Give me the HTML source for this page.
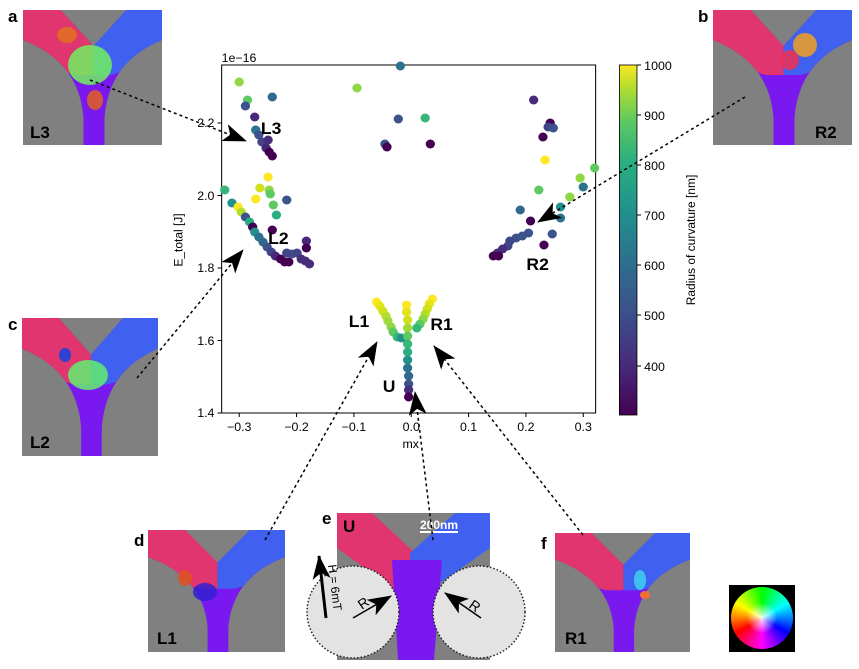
<!DOCTYPE html>
<html><head><meta charset="utf-8"><style>
body{margin:0;background:#fff;width:859px;height:669px;overflow:hidden;position:relative;font-family:"Liberation Sans","DejaVu Sans",sans-serif}
svg{position:absolute;left:0;top:0}
.wheel{position:absolute;left:729px;top:585px;width:66px;height:67px;background:#000}
.wheel div{position:absolute;left:2px;top:2px;width:62px;height:62px;border-radius:50%;background:radial-gradient(circle,rgba(255,255,255,0.9) 0%,rgba(255,255,255,0) 35%,rgba(0,0,0,0) 70%,rgba(0,0,0,0.5) 100%),conic-gradient(from 0deg,#0f0,#0ff,#00f,#f0f,#f00,#ff0,#0f0)}
</style></head><body>
<svg width="859" height="669" viewBox="0 0 859 669" font-family="Liberation Sans, DejaVu Sans, sans-serif">
<defs>
<clipPath id="yc"><path d="M0,0 L38,0 L71,36 L104,0 L140,0 L140,30 Q86,52 82,108 L82,135 L61,135 L61,108 Q57,52 0,30 Z"/></clipPath>
<symbol id="yj" viewBox="0 0 140 135" preserveAspectRatio="none">
<rect width="140" height="135" fill="#808080"/>
<g clip-path="url(#yc)">
<rect width="140" height="135" fill="#7a18f0"/>
<polygon points="0,0 71,0 71,70 0,50" fill="#e0356e"/>
<polygon points="140,0 71,0 71,70 140,50" fill="#4060f0"/>
<polygon points="50,65 92,65 92,135 50,135" fill="#7a18f0"/>
</g>
</symbol>
<marker id="ah" viewBox="0 0 24 18" refX="23" refY="9" markerWidth="24" markerHeight="18" markerUnits="userSpaceOnUse" orient="auto">
<path d="M0,0 L24,9 L0,18 L6,9 Z" fill="#000"/>
</marker>
</defs>

<use href="#yj" x="23" y="10" width="139" height="135"/>
<ellipse cx="90" cy="65" rx="22" ry="20" fill="#70f060" opacity="0.85"/>
<ellipse cx="67" cy="35" rx="10" ry="8" fill="#e07020" opacity="0.85"/>
<ellipse cx="95" cy="100" rx="8" ry="10" fill="#e06020" opacity="0.85"/>
<use href="#yj" x="713" y="10" width="139" height="135"/>
<ellipse cx="805" cy="45" rx="12" ry="12" fill="#f0a020" opacity="0.85"/>
<ellipse cx="790" cy="60" rx="9" ry="10" fill="#f03050" opacity="0.85"/>
<use href="#yj" x="22" y="318" width="136" height="138"/>
<ellipse cx="88" cy="375" rx="20" ry="15" fill="#60f070" opacity="0.85"/>
<ellipse cx="65" cy="355" rx="6" ry="7" fill="#3040d0"/>
<use href="#yj" x="148" y="530" width="137" height="122"/>
<ellipse cx="185" cy="578" rx="7" ry="8" fill="#e05020" opacity="0.85"/>
<ellipse cx="205" cy="592" rx="12" ry="9" fill="#3020d0" opacity="0.85"/>
<use href="#yj" x="555" y="533" width="135" height="119"/>
<ellipse cx="640" cy="580" rx="6" ry="10" fill="#40d0f0" opacity="0.85"/>
<ellipse cx="645" cy="595" rx="5" ry="4" fill="#f07030"/>

<rect x="337" y="513" width="153" height="147" fill="#808080"/>
<polygon points="337,513 372,513 415,553 415,590 395,590 337,548" fill="#e0356e"/>
<polygon points="490,513 455,513 410,553 410,590 430,590 490,548" fill="#4060f0"/>
<polygon points="392,560 442,560 434,660 398,660" fill="#7a18f0"/>
<circle cx="353" cy="612" r="46" fill="#e3e3e3" stroke="#222" stroke-width="1.5" stroke-dasharray="1.5,2"/>
<circle cx="479" cy="612" r="46" fill="#e3e3e3" stroke="#222" stroke-width="1.5" stroke-dasharray="1.5,2"/>
<line x1="353" y1="618" x2="391" y2="596" stroke="#000" stroke-width="1.5" marker-end="url(#ah)"/>
<line x1="481" y1="618" x2="445" y2="593" stroke="#000" stroke-width="1.5" marker-end="url(#ah)"/>
<text x="362" y="610" font-size="14" transform="rotate(-35 362 610)">R</text>
<text x="468" y="607" font-size="14" transform="rotate(35 468 607)">R</text>
<line x1="326" y1="618" x2="319" y2="556" stroke="#000" stroke-width="3" marker-end="url(#ah)"/>
<text x="328" y="565" font-size="12" transform="rotate(83 328 565)">H = 6mT</text>
<text x="420" y="529" font-size="12" font-weight="bold" fill="#fff">200nm</text>
<line x1="420" y1="532" x2="458" y2="532" stroke="#fff" stroke-width="2"/>

<g font-weight="bold" font-size="17" fill="#000">
<text x="8" y="22">a</text><text x="698" y="22">b</text><text x="8" y="330">c</text>
<text x="134" y="546">d</text><text x="322" y="524">e</text><text x="541" y="549">f</text>
<text x="30" y="138">L3</text><text x="815" y="138">R2</text><text x="30" y="448">L2</text>
<text x="157" y="644">L1</text><text x="565" y="644">R1</text><text x="343" y="532">U</text>
</g>

<g transform="translate(170,0) scale(1.0331,1) translate(-170,0)">
<rect x="220" y="65" width="362" height="348" fill="none" stroke="#000" stroke-width="1"/>
<g stroke="#000">
<line x1="237" y1="413" x2="237" y2="417"/><line x1="292.5" y1="413" x2="292.5" y2="417"/><line x1="348" y1="413" x2="348" y2="417"/><line x1="403.5" y1="413" x2="403.5" y2="417"/><line x1="459" y1="413" x2="459" y2="417"/><line x1="514.5" y1="413" x2="514.5" y2="417"/><line x1="570" y1="413" x2="570" y2="417"/>
<line x1="216" y1="413" x2="220" y2="413"/><line x1="216" y1="340.5" x2="220" y2="340.5"/><line x1="216" y1="268" x2="220" y2="268"/><line x1="216" y1="195.5" x2="220" y2="195.5"/><line x1="216" y1="123" x2="220" y2="123"/>
</g>
<g font-size="12" fill="#000" text-anchor="middle">
<text x="237" y="431">−0.3</text><text x="292.5" y="431">−0.2</text><text x="348" y="431">−0.1</text><text x="403.5" y="431">0.0</text><text x="459" y="431">0.1</text><text x="514.5" y="431">0.2</text><text x="570" y="431">0.3</text>
<text x="403" y="448">mx</text>
</g>
<g font-size="12" fill="#000" text-anchor="end">
<text x="213" y="417">1.4</text><text x="213" y="345">1.6</text><text x="213" y="272">1.8</text><text x="213" y="200">2.0</text><text x="213" y="127">2.2</text>
</g>
<text x="220" y="62" font-size="12">1e−16</text>
<text x="182" y="240" font-size="12" text-anchor="middle" transform="rotate(-90 182 240)">E_total [J]</text>

<defs><linearGradient id="vir" x1="0" y1="1" x2="0" y2="0">
<stop offset="0" stop-color="#440154"/><stop offset="0.15" stop-color="#472d7b"/><stop offset="0.3" stop-color="#3b528b"/><stop offset="0.45" stop-color="#2c728e"/><stop offset="0.58" stop-color="#21918c"/><stop offset="0.72" stop-color="#28ae80"/><stop offset="0.84" stop-color="#5ec962"/><stop offset="0.93" stop-color="#addc30"/><stop offset="1" stop-color="#fde725"/></linearGradient></defs>
<rect x="605" y="65" width="17" height="350" fill="url(#vir)" stroke="#000" stroke-width="0.8"/>
<g stroke="#000"><line x1="622" y1="65" x2="626" y2="65"/><line x1="622" y1="115" x2="626" y2="115"/><line x1="622" y1="165" x2="626" y2="165"/><line x1="622" y1="215" x2="626" y2="215"/><line x1="622" y1="265" x2="626" y2="265"/><line x1="622" y1="315" x2="626" y2="315"/><line x1="622" y1="366" x2="626" y2="366"/></g>
<g font-size="12" fill="#000"><text x="629" y="70">1000</text><text x="629" y="120">900</text><text x="629" y="170">800</text><text x="629" y="220">700</text><text x="629" y="270">600</text><text x="629" y="320">500</text><text x="629" y="371">400</text></g>
<text x="678" y="240" font-size="12" text-anchor="middle" transform="rotate(-90 678 240)">Radius of curvature [nm]</text>

<g>
<circle cx="237" cy="82" r="4.5" fill="#8fd744"/><circle cx="245" cy="100" r="4.5" fill="#5ec962"/><circle cx="243" cy="106" r="4.5" fill="#3b528b"/><circle cx="269" cy="97" r="4.5" fill="#31688e"/><circle cx="252" cy="117" r="4.5" fill="#482878"/><circle cx="253" cy="130" r="4.5" fill="#2c728e"/><circle cx="256" cy="135" r="4.5" fill="#3b528b"/><circle cx="259" cy="142" r="4.5" fill="#414487"/><circle cx="265" cy="140" r="4.5" fill="#472d7b"/><circle cx="263" cy="148" r="4.5" fill="#482878"/><circle cx="266" cy="152" r="4.5" fill="#440154"/><circle cx="269" cy="156" r="4.5" fill="#440154"/>
<circle cx="265" cy="177" r="4.5" fill="#fde725"/><circle cx="257" cy="188" r="4.5" fill="#d0e11c"/><circle cx="266" cy="190" r="4.5" fill="#8fd744"/><circle cx="267" cy="194" r="4.5" fill="#5ec962"/><circle cx="253" cy="199" r="4.5" fill="#fde725"/><circle cx="270" cy="205" r="4.5" fill="#5ec962"/><circle cx="273" cy="215" r="4.5" fill="#28ae80"/><circle cx="223" cy="190" r="4.5" fill="#35b779"/><circle cx="283" cy="200" r="4.5" fill="#3b528b"/>
<circle cx="230" cy="203" r="4.5" fill="#21918c"/><circle cx="236" cy="207" r="4.5" fill="#fde725"/><circle cx="239" cy="212" r="4.5" fill="#b5de2b"/><circle cx="243" cy="217" r="4.5" fill="#3b528b"/><circle cx="247" cy="222" r="4.5" fill="#28ae80"/><circle cx="250" cy="227" r="4.5" fill="#440154"/><circle cx="252" cy="232" r="4.5" fill="#21918c"/><circle cx="256" cy="237" r="4.5" fill="#2c728e"/><circle cx="260" cy="242" r="4.5" fill="#31688e"/><circle cx="264" cy="247" r="4.5" fill="#3b528b"/><circle cx="268" cy="252" r="4.5" fill="#414487"/><circle cx="272" cy="256" r="4.5" fill="#482878"/><circle cx="277" cy="259" r="4.5" fill="#440154"/><circle cx="281" cy="262" r="4.5" fill="#440154"/><circle cx="285" cy="262" r="4.5" fill="#440154"/><circle cx="288" cy="254" r="4.5" fill="#3b528b"/><circle cx="283" cy="253" r="4.5" fill="#414487"/><circle cx="293" cy="253" r="4.5" fill="#414487"/><circle cx="302" cy="241" r="4.5" fill="#482878"/><circle cx="302" cy="248" r="4.5" fill="#440154"/><circle cx="297" cy="259" r="4.5" fill="#472d7b"/><circle cx="301" cy="261" r="4.5" fill="#472d7b"/><circle cx="305" cy="264" r="4.5" fill="#472d7b"/><circle cx="269" cy="230" r="4.5" fill="#440154"/>
<circle cx="393" cy="66" r="4.5" fill="#2c728e"/><circle cx="351" cy="88" r="4.5" fill="#8fd744"/><circle cx="391" cy="119" r="4.5" fill="#3b528b"/><circle cx="417" cy="118" r="4.5" fill="#35b779"/><circle cx="378" cy="144" r="4.5" fill="#3b528b"/><circle cx="380" cy="147" r="4.5" fill="#440154"/><circle cx="422" cy="144" r="4.5" fill="#440154"/>
<circle cx="522" cy="100" r="4.5" fill="#472d7b"/><circle cx="538" cy="123" r="4.5" fill="#440154"/><circle cx="536" cy="127" r="4.5" fill="#414487"/><circle cx="541" cy="128" r="4.5" fill="#3b528b"/><circle cx="531" cy="137" r="4.5" fill="#440154"/><circle cx="533" cy="160" r="4.5" fill="#fde725"/><circle cx="581" cy="168" r="4.5" fill="#5ec962"/><circle cx="567" cy="178" r="4.5" fill="#8fd744"/><circle cx="570" cy="187" r="4.5" fill="#2c728e"/><circle cx="527" cy="190" r="4.5" fill="#5ec962"/><circle cx="557" cy="197" r="4.5" fill="#8fd744"/><circle cx="509" cy="210" r="4.5" fill="#31688e"/><circle cx="548" cy="207" r="4.5" fill="#21918c"/><circle cx="548" cy="218" r="4.5" fill="#2c728e"/><circle cx="519" cy="221" r="4.5" fill="#440154"/><circle cx="540" cy="234" r="4.5" fill="#3b528b"/><circle cx="532" cy="245" r="4.5" fill="#440154"/>
<circle cx="517" cy="233" r="4.5" fill="#3b528b"/><circle cx="511" cy="236" r="4.5" fill="#3b528b"/><circle cx="505" cy="238" r="4.5" fill="#3b528b"/><circle cx="499" cy="241" r="4.5" fill="#414487"/><circle cx="497" cy="246" r="4.5" fill="#414487"/><circle cx="492" cy="249" r="4.5" fill="#472d7b"/><circle cx="487" cy="253" r="4.5" fill="#472d7b"/><circle cx="483" cy="256" r="4.5" fill="#440154"/><circle cx="488" cy="256" r="4.5" fill="#440154"/>
<circle cx="370" cy="302" r="4.5" fill="#fde725"/><circle cx="373" cy="306" r="4.5" fill="#e5e419"/><circle cx="376" cy="311" r="4.5" fill="#d0e11c"/><circle cx="379" cy="316" r="4.5" fill="#b5de2b"/><circle cx="381" cy="321" r="4.5" fill="#a0da39"/><circle cx="384" cy="327" r="4.5" fill="#8fd744"/><circle cx="386" cy="332" r="4.5" fill="#5ec962"/><circle cx="390" cy="337" r="4.5" fill="#35b779"/><circle cx="394" cy="338" r="4.5" fill="#21918c"/>
<circle cx="424" cy="299" r="4.5" fill="#fde725"/><circle cx="421" cy="304" r="4.5" fill="#e5e419"/><circle cx="419" cy="309" r="4.5" fill="#d0e11c"/><circle cx="417" cy="314" r="4.5" fill="#b5de2b"/><circle cx="415" cy="319" r="4.5" fill="#8fd744"/><circle cx="412" cy="324" r="4.5" fill="#5ec962"/><circle cx="409" cy="328" r="4.5" fill="#35b779"/>
<circle cx="399" cy="305" r="4.5" fill="#fde725"/><circle cx="399" cy="312" r="4.5" fill="#e5e419"/><circle cx="400" cy="320" r="4.5" fill="#d0e11c"/><circle cx="400" cy="328" r="4.5" fill="#a0da39"/><circle cx="400" cy="336" r="4.5" fill="#5ec962"/><circle cx="400" cy="344" r="4.5" fill="#35b779"/><circle cx="400" cy="352" r="4.5" fill="#28ae80"/><circle cx="400" cy="360" r="4.5" fill="#21918c"/><circle cx="400" cy="368" r="4.5" fill="#2c728e"/><circle cx="401" cy="376" r="4.5" fill="#31688e"/><circle cx="401" cy="384" r="4.5" fill="#3b528b"/><circle cx="401" cy="390" r="4.5" fill="#472d7b"/><circle cx="401" cy="397" r="4.5" fill="#440154"/>
</g>
<g font-weight="bold" font-size="17" fill="#000">
<text x="258" y="134">L3</text><text x="265" y="244">L2</text><text x="515" y="270">R2</text><text x="343" y="327">L1</text><text x="422" y="330">R1</text><text x="376" y="392">U</text>
</g>
</g>

<g stroke="#000" stroke-width="1.5" stroke-dasharray="3,3" fill="none">
<line x1="90" y1="80" x2="246" y2="141" marker-end="url(#ah)"/>
<line x1="745" y1="97" x2="538" y2="222" marker-end="url(#ah)"/>
<line x1="137" y1="378" x2="243" y2="250" marker-end="url(#ah)"/>
<line x1="265" y1="540" x2="377" y2="342" marker-end="url(#ah)"/>
<line x1="433" y1="540" x2="415" y2="392" marker-end="url(#ah)"/>
<line x1="583" y1="535" x2="434" y2="346" marker-end="url(#ah)"/>
</g>
</svg>
<div class="wheel"><div></div></div>
</body></html>
